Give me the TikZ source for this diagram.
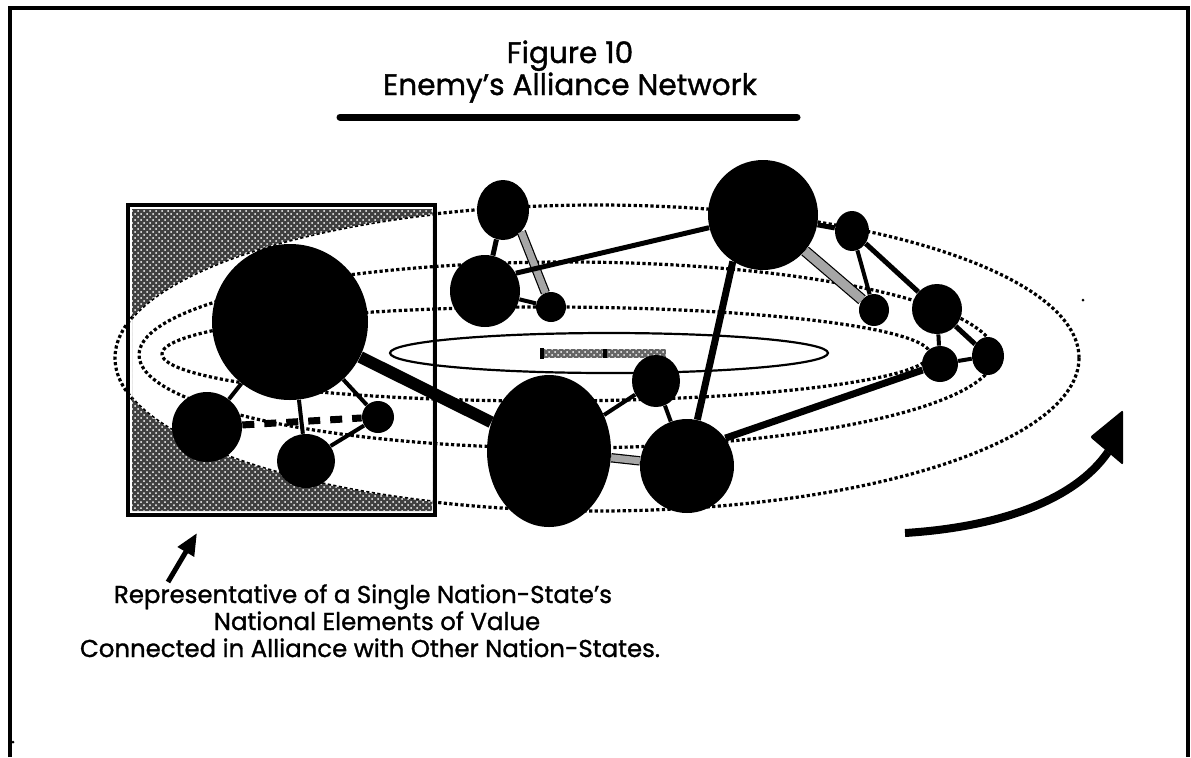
\documentclass[tikz,border=0pt]{standalone}
\usepackage{fontspec}
\setmainfont{Poppins}[FakeBold=1.2]
\usetikzlibrary{shapes.geometric,arrows.meta,positioning,patterns}
\tikzset{
  elem/.style={ellipse, fill=black, inner sep=0pt},
  link/.style={line width=2pt},
  bond/.style={line width=2.5pt},
  tie/.style={line width=3.5pt},
  hatchlink/.style={draw=black, line width=0.6pt, double=black!35, double distance=3.5pt},
  orbit/.style={line width=1.6pt, dash pattern=on 1.6pt off 1.2pt},
  caption/.style={anchor=base, font=\fontsize{12.2}{14}\selectfont},
  heading/.style={anchor=base, font=\fontsize{14.8}{17}\selectfont}
}

\begin{document}
\begin{tikzpicture}[x=0.5pt, y=-0.5pt]
    \useasboundingbox (0,0) rectangle (1191,757);
    % frame, open at the bottom
    \draw[line width=1.7pt] (10,757) -- (10,8) -- (1188,8) -- (1188,757);
    \fill (13,742) circle (1.5);
    \fill (1083,300) circle (1.5);

    % title
    \node[heading] (fig) at (570,63) {Figure 10};
    \node[heading] (title) at (570,95) {Enemy's Alliance Network};
    \draw[line width=3.5pt, line cap=round] (340,117) -- (797,117);

    % orbits
    \draw[orbit] (597,358) ellipse [x radius=482, y radius=153];
    \draw[orbit] (567,355) ellipse [x radius=428, y radius=93];
    \draw[orbit] (546,354) ellipse [x radius=384, y radius=47];
    \draw[line width=1.1pt] (609,353) ellipse [x radius=219, y radius=20];
    \fill[black!60] (540,349) rectangle (666,358);
    \fill[pattern=crosshatch dots, pattern color=white] (540,349) rectangle (666,358);
    \fill (540,348) rectangle (544,359);
    \fill (603,349) rectangle (607,358);

    % single nation-state
    \begin{scope}
        \clip (132,209) rectangle (432,511);
        \fill[black!75, even odd rule] (132,209) rectangle (432,511)
            (597,358) ellipse [x radius=482, y radius=153];
        \fill[pattern=crosshatch dots, pattern color=white, even odd rule] (132,209) rectangle (432,511)
            (597,358) ellipse [x radius=482, y radius=153];
    \end{scope}
    \draw[line width=1.6pt] (128,205) rectangle (435,515);

    % elements of value
    \node[elem, minimum width=78pt, minimum height=78pt] (a1) at (290,322) {};
    \node[elem, minimum width=35pt, minimum height=35pt] (a2) at (207,427) {};
    \node[elem, minimum width=29pt, minimum height=27pt] (a3) at (306,461) {};
    \node[elem, minimum width=16pt, minimum height=16pt] (a4) at (378,417) {};

    \node[elem, minimum width=26pt, minimum height=30pt] (b1) at (503,210) {};
    \node[elem, minimum width=35pt, minimum height=36pt] (b2) at (485,291) {};
    \node[elem, minimum width=15pt, minimum height=15pt] (b3) at (551,307) {};

    \node[elem, minimum width=55pt, minimum height=55pt] (c1) at (763,215) {};
    \node[elem, minimum width=17pt, minimum height=20pt] (c2) at (852,231) {};
    \node[elem, minimum width=15pt, minimum height=16pt] (c3) at (874,310) {};
    \node[elem, minimum width=25pt, minimum height=25pt] (c4) at (937,309) {};
    \node[elem, minimum width=18pt, minimum height=18pt] (c5) at (940,364) {};
    \node[elem, minimum width=16pt, minimum height=19pt] (c6) at (988,356) {};

    \node[elem, minimum width=62pt, minimum height=76pt] (d1) at (549,451) {};
    \node[elem, minimum width=24pt, minimum height=26pt] (d2) at (656,381) {};
    \node[elem, minimum width=47pt, minimum height=47pt] (d3) at (687,466) {};

    % alliance links
    \draw[line width=6pt] (a1) -- (d1);
    \draw[link] (a1) -- (a2);
    \draw[link] (a1) -- (a3);
    \draw[link] (a1) -- (a4);
    \draw[link] (a3) -- (a4);
    \draw[line width=3.5pt, dash pattern=on 6pt off 5pt] (a2) -- (a4);

    \draw[bond] (b1) -- (b2);
    \draw[link] (b2) -- (b3);
    \draw[hatchlink] (b1.-50) -- (b3);
    \draw[bond] (b2.30) -- (c1);

    \draw[bond] (c1) -- (c2);
    \draw[link] (c2) -- (c3);
    \draw[bond] (c2) -- (c4);
    \draw[link] (c4) -- (c5);
    \draw[bond] (c4) -- (c6);
    \draw[link] (c5) -- (c6);
    \draw[hatchlink, double distance=4.5pt] (c1) -- (c3);

    \draw[link] (d1) -- (d2);
    \draw[link] (d2) -- (d3);
    \draw[hatchlink] (d1) -- (d3);
    \draw[tie] (c1.237) -- (d3);
    \draw[tie] (d3.36) -- (c5);

    % rotation
    \coordinate (rotS) at (905,533);
    \coordinate (rotE) at (1108,452);
    \draw[line width=4pt] (rotS) .. controls (1000,527) and (1075,500) .. (rotE);
    \fill[rounded corners=1pt] (1123,410) -- (1090,437) -- (1123,465) -- cycle;

    % note
    \node[caption] (note1) at (363,603) {Representative of a Single Nation-State's};
    \node[caption] (note2) at (377,630) {National Elements of Value};
    \node[caption] (note3) at (370,657) {Connected in Alliance with Other Nation-States.};
    \coordinate (ptr) at (168,582);
    \draw[line width=2.5pt, -{Triangle[length=11pt, width=9pt]}] (ptr) -- (197,533);
\end{tikzpicture}
\end{document}
